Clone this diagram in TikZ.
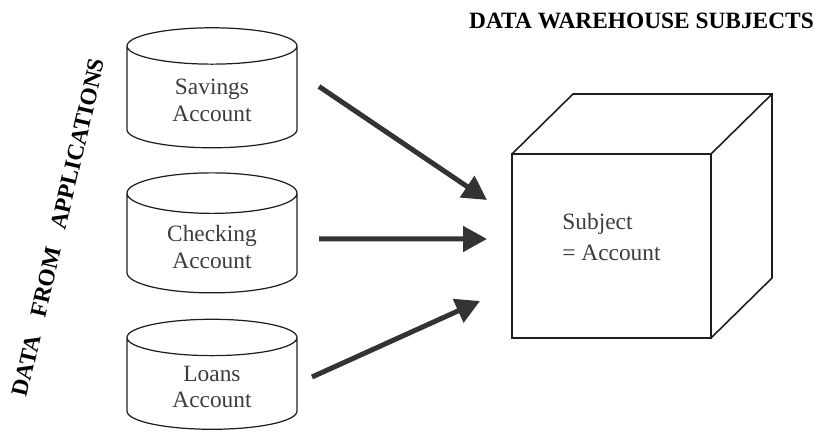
\documentclass[tikz,border=0pt]{standalone}
\usepackage{xcolor}
\usepackage{tikz}
\usepackage{fontspec}
\setmainfont{Liberation Serif}
\usetikzlibrary{shapes.geometric,arrows.meta,positioning}
\definecolor{dwline}{RGB}{30,30,30}
\definecolor{dwarrow}{RGB}{51,51,51}
\definecolor{dwtext}{RGB}{60,60,60}

\begin{document}
\begin{tikzpicture}[
    db/.style={cylinder, shape border rotate=90, aspect=0.4, draw=dwline, line width=0.7pt,
        minimum width=3.4cm, minimum height=2.4cm, align=center, text=dwtext,
        font=\fontsize{13.3}{15.3}\selectfont, outer sep=0pt},
    face/.style={draw=dwline, line width=0.9pt, minimum width=3.98cm, minimum height=3.68cm, outer sep=0pt},
    flow/.style={draw=dwarrow, line width=0.1cm, -{Triangle[length=0.48cm,width=0.5cm]}},
    heading/.style={font=\fontsize{13.3}{16}\selectfont\bfseries}
]
    \useasboundingbox (0,0) rectangle (16.42,8.66);

    % Title
    \node[heading] (title) at (12.83,8.25) {DATA WAREHOUSE SUBJECTS};

    % Side label
    \node[heading, rotate=77] (source) at (1.17,4.11) {DATA\hspace{0.8em}FROM\hspace{0.8em}APPLICATIONS};

    % Application files
    \node[db] (savings) at (4.24,6.65) {Savings\\Account};
    \node[db] (checking) at (4.24,3.72) {Checking\\Account};
    \node[db, minimum height=2.2cm] (loans) at (4.24,0.92) {Loans\\Account};

    % Subject cube
    \node[face] (subject) at (12.23,3.74) {};
    \node[align=left, text=dwtext, font=\fontsize{13.3}{17.6}\selectfont] (subjtext)
        at ([yshift=0.18cm]subject.center) {Subject\\= Account};
    \draw[dwline, line width=0.9pt] (subject.north west) -- ++(1.22,1.2) -- ++(3.98,0) coordinate (back)
        -- ++(0,-3.68) -- (subject.south east);
    \draw[dwline, line width=0.9pt] (subject.north east) -- (back);

    % Arrows
    \coordinate (in1) at ([xshift=-0.5cm,yshift=0.92cm]subject.west);
    \coordinate (in2) at ([xshift=-0.5cm,yshift=0.14cm]subject.west);
    \coordinate (in3) at ([xshift=-0.64cm,yshift=-1.1cm]subject.west);
    \draw[flow] ([xshift=0.44cm,yshift=0.28cm]savings.east) -- (in1);
    \draw[flow] ([xshift=0.44cm,yshift=0.16cm]checking.east) -- (in2);
    \draw[flow] ([xshift=0.3cm,yshift=0.2cm]loans.east) -- (in3);
\end{tikzpicture}
\end{document}
